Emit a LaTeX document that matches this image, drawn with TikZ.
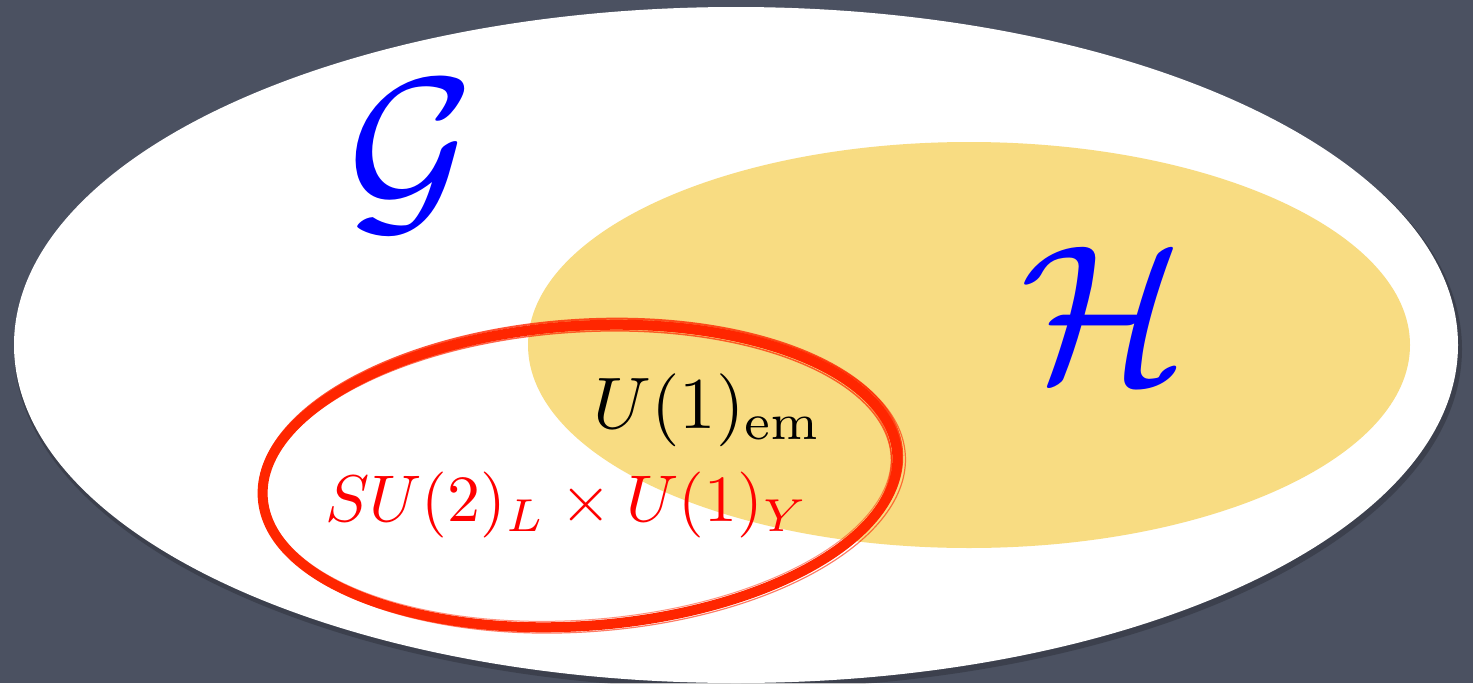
\documentclass[tikz,border=0pt]{standalone}
\usepackage{amsmath}
\definecolor{bgslate}{RGB}{75,81,97}
\definecolor{hyellow}{RGB}{248,220,130}
\definecolor{brushred}{RGB}{255,38,0}
\definecolor{calblue}{RGB}{0,0,255}
\tikzset{
  setG/.style={fill=white},
  setH/.style={fill=hyellow},
  brush/.style={draw=brushred, line width=#1},
  biglabel/.style={text=calblue, scale=19.5, inner sep=0pt},
  grouplabel/.style={inner sep=0pt}
}
\begin{document}
\begin{tikzpicture}[x=1pt,y=-1pt]
\useasboundingbox (0,0) rectangle (1473,683);
\fill[bgslate] (0,0) rectangle (1473,683);
% outer set G
\coordinate (gc) at (736,345);
\fill[black, opacity=0.2] (738,349) ellipse [x radius=724, y radius=340];
\path[setG] (gc) ellipse [x radius=722, y radius=338];
% subset H
\coordinate (hc) at (969,345);
\path[setH] (hc) ellipse [x radius=441, y radius=203];
% labels
\node[biglabel] (G) at (411,156) {$\mathcal{G}$};
\node[biglabel] (H) at (1104,314) {$\mathcal{H}$};
\node[grouplabel, scale=7.3] (em) at (708,410) {$U(1)_{\mathrm{em}}$};
\node[grouplabel, scale=6.6, text=red] (sm) at (567,505) {$SU(2)_L\times U(1)_Y$};
% hand-drawn red ellipse
\coordinate (rc) at (580,476);
\begin{scope}[shift={(rc)}, rotate=4]
  \draw[brush=10pt] (0,0) ellipse [x radius=318, y radius=150];
  \draw[brush=2pt, opacity=0.8] (1,-2) ellipse [x radius=322, y radius=154];
  \draw[brush=1.5pt, opacity=0.7] (-2,2) ellipse [x radius=314, y radius=146];
  \draw[brush=1.2pt, opacity=0.6] (3,1) ellipse [x radius=323, y radius=155];
  \draw[brush=1pt, opacity=0.5] (-1,-1) ellipse [x radius=313, y radius=145];
\end{scope}
\end{tikzpicture}
\end{document}
